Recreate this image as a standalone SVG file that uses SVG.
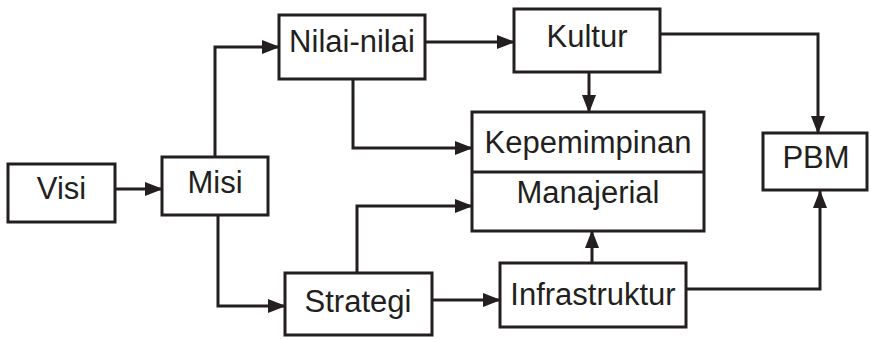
<svg xmlns="http://www.w3.org/2000/svg" width="871" height="339" viewBox="0 0 871 339">
  <style>
    .box { fill: #ffffff; stroke: #231f20; stroke-width: 3; }
    .lbl { font-family: "Liberation Sans", Arial, sans-serif; font-size: 31px; fill: #231f20; text-anchor: middle; }
    .wire { fill: none; stroke: #231f20; stroke-width: 3; marker-end: url(#head); }
  </style>
  <defs>
    <marker id="head" markerUnits="userSpaceOnUse" markerWidth="19" markerHeight="14" refX="17" refY="7" orient="auto">
      <path d="M0,0 L18,7 L0,14 Z" fill="#231f20"/>
    </marker>
  </defs>
  <rect width="871" height="339" fill="#ffffff"/>

  <g id="connectors">
    <!-- Visi to Misi -->
    <path class="wire" d="M115,189 H162"/>
    <!-- Misi up to Nilai-nilai -->
    <path class="wire" d="M215,157 V47 H279"/>
    <!-- Misi down to Strategi -->
    <path class="wire" d="M218,215 V306 H285"/>
    <!-- Nilai-nilai to Kultur -->
    <path class="wire" d="M425,42 H514"/>
    <!-- Nilai-nilai to Kepemimpinan -->
    <path class="wire" d="M353,79 V148 H472"/>
    <!-- Kultur to Kepemimpinan -->
    <path class="wire" d="M589,72 V112"/>
    <!-- Kultur to PBM -->
    <path class="wire" d="M660,34 H818 V133"/>
    <!-- Strategi to Manajerial -->
    <path class="wire" d="M357,273 V206 H472"/>
    <!-- Strategi to Infrastruktur -->
    <path class="wire" d="M432,300 H500"/>
    <!-- Infrastruktur to Manajerial -->
    <path class="wire" d="M592,263 V231"/>
    <!-- Infrastruktur to PBM -->
    <path class="wire" d="M686,289 H820 V191"/>
  </g>

  <g id="visi">
    <rect class="box" x="8" y="164" width="107" height="58"/>
    <text class="lbl" x="61.5" y="199">Visi</text>
  </g>
  <g id="misi">
    <rect class="box" x="162" y="157" width="106" height="58"/>
    <text class="lbl" x="215" y="193">Misi</text>
  </g>
  <g id="nilai-nilai">
    <rect class="box" x="279" y="15" width="146" height="64"/>
    <text class="lbl" x="352" y="52">Nilai-nilai</text>
  </g>
  <g id="kultur">
    <rect class="box" x="514" y="9" width="146" height="63"/>
    <text class="lbl" x="587" y="47">Kultur</text>
  </g>
  <g id="kepemimpinan-manajerial">
    <rect class="box" x="472" y="112" width="232" height="119"/>
    <line x1="472" y1="172" x2="704" y2="172" stroke="#231f20" stroke-width="3"/>
    <text class="lbl" x="588" y="153">Kepemimpinan</text>
    <text class="lbl" x="588" y="203">Manajerial</text>
  </g>
  <g id="pbm">
    <rect class="box" x="763" y="133" width="104" height="57"/>
    <text class="lbl" x="816" y="168">PBM</text>
  </g>
  <g id="strategi">
    <rect class="box" x="285" y="273" width="147" height="62"/>
    <text class="lbl" x="358" y="312">Strategi</text>
  </g>
  <g id="infrastruktur">
    <rect class="box" x="500" y="263" width="186" height="64"/>
    <text class="lbl" x="593" y="305">Infrastruktur</text>
  </g>
</svg>
